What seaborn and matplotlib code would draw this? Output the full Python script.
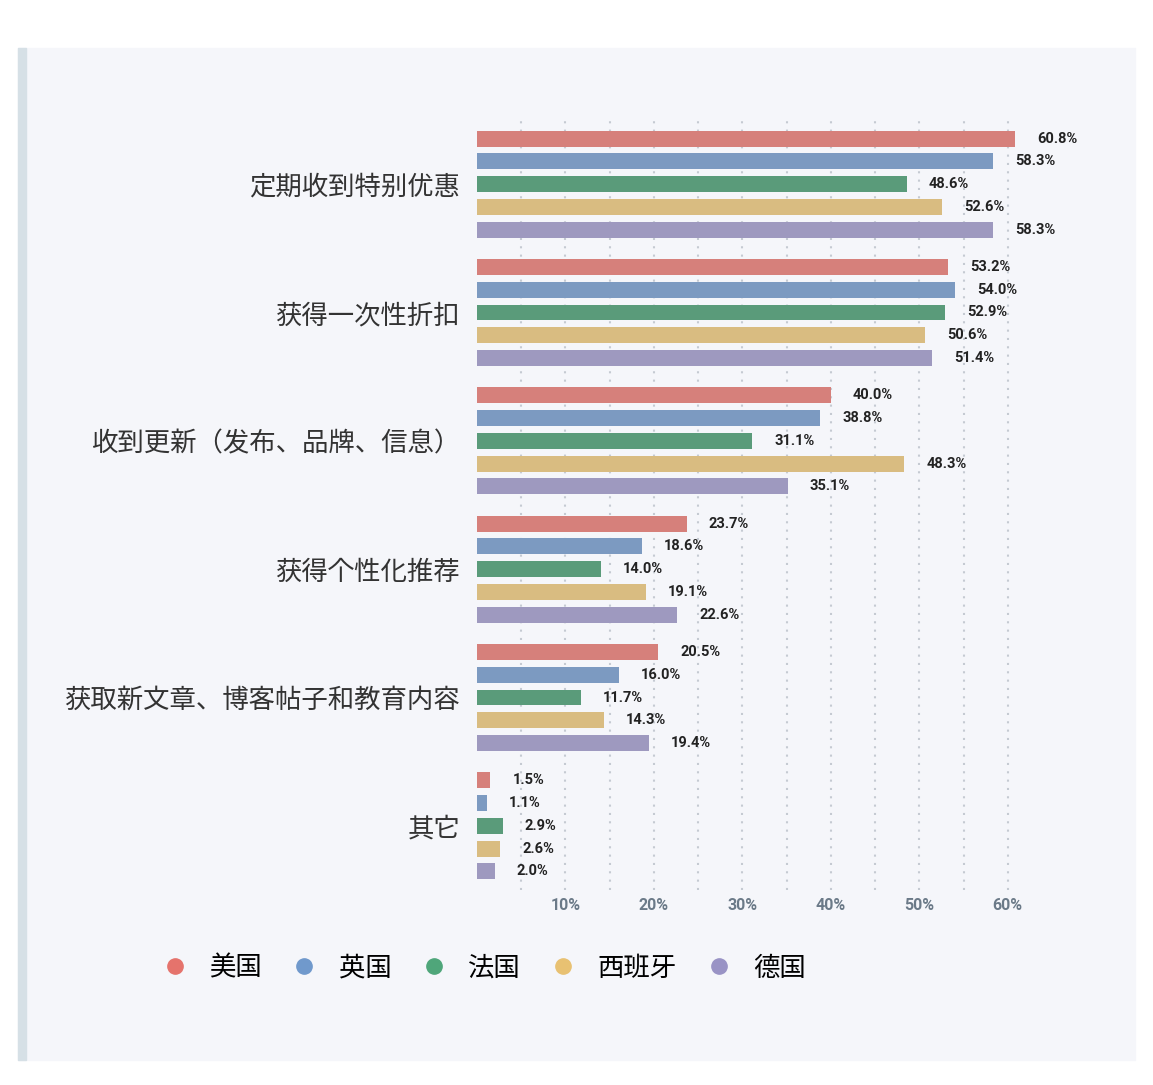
import matplotlib
matplotlib.use("Agg")
import matplotlib.pyplot as plt
import seaborn as sns
import pandas as pd
from matplotlib.lines import Line2D
from matplotlib.patches import Rectangle
from matplotlib import font_manager as fm

categories = ["定期收到特别优惠", "获得一次性折扣", "收到更新（发布、品牌、信息）",
              "获得个性化推荐", "获取新文章、博客帖子和教育内容", "其它"]
countries = ["美国", "英国", "法国", "西班牙", "德国"]
values = {
    "美国": [60.8, 53.2, 40.0, 23.7, 20.5, 1.5],
    "英国": [58.3, 54.0, 38.8, 18.6, 16.0, 1.1],
    "法国": [48.6, 52.9, 31.1, 14.0, 11.7, 2.9],
    "西班牙": [52.6, 50.6, 48.3, 19.1, 14.3, 2.6],
    "德国": [58.3, 51.4, 35.1, 22.6, 19.4, 2.0],
}
colors = ["#e5736c", "#7099cc", "#4fa67a", "#e8c172", "#9993c5"]
ticks = [10, 20, 30, 40, 50, 60]

rows = []
for c in countries:
    for cat, v in zip(categories, values[c]):
        rows.append({"cat": cat, "country": c, "v": v})
df = pd.DataFrame(rows)

# locate a CJK font file
cjk_path = None
for f in fm.findSystemFonts():
    n = f.lower()
    if "notosanscjk" in n.replace(" ", "").replace("-", "") or "notosans-cjk" in n:
        if "regular" in n or cjk_path is None:
            cjk_path = f
if cjk_path is None:
    for f in fm.fontManager.ttflist:
        if "CJK" in f.name:
            cjk_path = f.fname
            break
def cjk(size):
    if cjk_path:
        return fm.FontProperties(fname=cjk_path, size=size)
    return fm.FontProperties(family="Noto Sans CJK SC", size=size)

fig = plt.figure(figsize=(11.53, 10.85), dpi=100)
fig.patch.set_facecolor("white")
fig.patches.append(Rectangle((18/1153, 1-1060/1085), (1135-18)/1153, (1060-48)/1085,
                             transform=fig.transFigure, color="#f5f6fa", zorder=-10))
fig.patches.append(Rectangle((18/1153, 1-1060/1085), 8/1153, (1060-48)/1085,
                             transform=fig.transFigure, color="#d6e0e6", zorder=-10))
ax = fig.add_axes([477/1153, 1-890/1085, 575/1153, 770/1085])
ax.set_facecolor("none")
sns.barplot(data=df, y="cat", x="v", hue="country", order=categories, hue_order=countries,
            palette=colors, orient="h", width=0.887, gap=0.3, ax=ax, legend=False, zorder=3)
for cont in ax.containers:
    for bar in cont:
        w = bar.get_width()
        ax.text(w + 2.5, bar.get_y() + bar.get_height()/2, f"{w:.1f}%", va="center", ha="left",
                fontsize=10.5, fontweight="bold", family="Roboto", color="#222222")
ax.set_xlim(0, 65)
ax.set_ylim(5.5, -0.5)
ax.set_xticks(ticks)
ax.set_xticklabels([f"{t}%" for t in ticks], family="Roboto", fontsize=11.5, color="#6b7a88", fontweight="bold")
for g in range(5, 65, 5):
    ax.axvline(g, color="#c5cad2", ls=(0, (1, 3)), lw=1.5, zorder=1)
ax.set_yticks(range(6))
ax.set_yticklabels(categories, color="#333333")
for lab in ax.get_yticklabels():
    lab.set_fontproperties(cjk(19))
ax.tick_params(length=0, pad=12)
ax.tick_params(axis="x", pad=6)
ax.set_xlabel(""); ax.set_ylabel("")
for s in ax.spines.values():
    s.set_visible(False)
handles = [Line2D([], [], marker="o", ls="", color=c, markersize=11) for c in colors]
fig.legend(handles, countries, loc="center left", bbox_to_anchor=(125/1153, 1-968/1085), ncol=5,
           frameon=False, prop=cjk(19), handletextpad=0.3, columnspacing=0.6)
fig.savefig("out.png", dpi=100)
